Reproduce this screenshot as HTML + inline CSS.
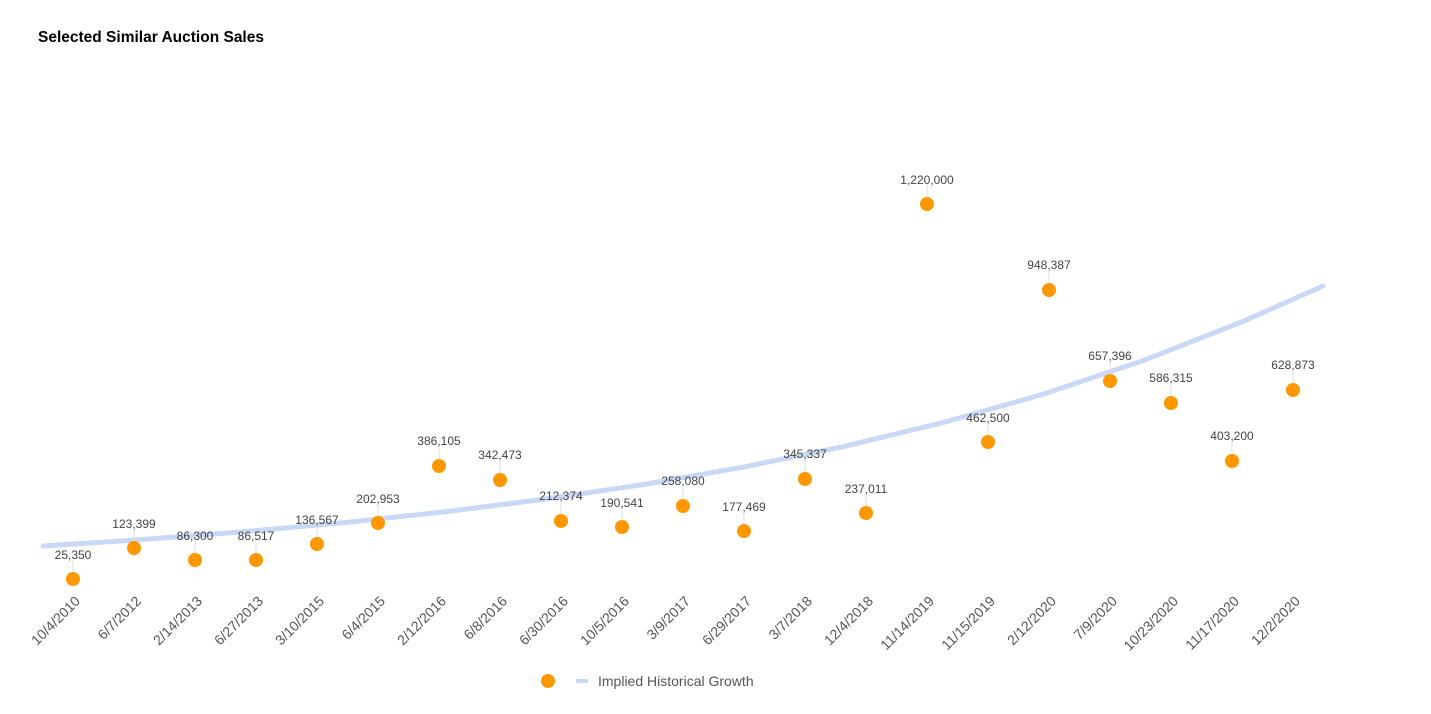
<!DOCTYPE html>
<html><head><meta charset="utf-8"><style>
body{margin:0;background:#fff;}
svg{display:block;font-family:"Liberation Sans",Arial,sans-serif;}
.v{font-size:12px;fill:#444;text-anchor:middle;}
.t{font-size:14px;fill:#555;text-anchor:end;}
.l{stroke:#ddd;stroke-width:1;}
</style></head><body>
<svg width="1431" height="714" viewBox="0 0 1431 714">
<text x="38" y="42" font-size="15.5" font-weight="bold" fill="#000">Selected Similar Auction Sales</text>
<polyline fill="none" stroke="#c9d9f5" stroke-width="5" stroke-linecap="round" points="43,546 143,539.5 243,531.7 343,522.7 443,512 543,499.4 643,484.6 743,467.2 843,446.7 943,422.6 1043,394.2 1143,360.7 1243,321.4 1323,286"/>
<g fill="#ff9800">
<line class="l" x1="73" y1="561" x2="73" y2="572"/><circle cx="73" cy="579" r="7"/><text class="v" x="73" y="559">25,350</text>
<line class="l" x1="134" y1="529" x2="134" y2="541"/><circle cx="134" cy="548" r="7"/><text class="v" x="134" y="528">123,399</text>
<line class="l" x1="195" y1="541" x2="195" y2="553"/><circle cx="195" cy="560" r="7"/><text class="v" x="195" y="540">86,300</text>
<line class="l" x1="256" y1="541" x2="256" y2="553"/><circle cx="256" cy="560" r="7"/><text class="v" x="256" y="540">86,517</text>
<line class="l" x1="317" y1="525" x2="317" y2="537"/><circle cx="317" cy="544" r="7"/><text class="v" x="317" y="524">136,567</text>
<line class="l" x1="378" y1="504" x2="378" y2="516"/><circle cx="378" cy="523" r="7"/><text class="v" x="378" y="503">202,953</text>
<line class="l" x1="439" y1="447" x2="439" y2="459"/><circle cx="439" cy="466" r="7"/><text class="v" x="439" y="445">386,105</text>
<line class="l" x1="500" y1="461" x2="500" y2="473"/><circle cx="500" cy="480" r="7"/><text class="v" x="500" y="459">342,473</text>
<line class="l" x1="561" y1="502" x2="561" y2="514"/><circle cx="561" cy="521" r="7"/><text class="v" x="561" y="500">212,374</text>
<line class="l" x1="622" y1="508" x2="622" y2="520"/><circle cx="622" cy="527" r="7"/><text class="v" x="622" y="507">190,541</text>
<line class="l" x1="683" y1="487" x2="683" y2="499"/><circle cx="683" cy="506" r="7"/><text class="v" x="683" y="485">258,080</text>
<line class="l" x1="744" y1="512" x2="744" y2="524"/><circle cx="744" cy="531" r="7"/><text class="v" x="744" y="511">177,469</text>
<line class="l" x1="805" y1="460" x2="805" y2="472"/><circle cx="805" cy="479" r="7"/><text class="v" x="805" y="458">345,337</text>
<line class="l" x1="866" y1="494" x2="866" y2="506"/><circle cx="866" cy="513" r="7"/><text class="v" x="866" y="493">237,011</text>
<line class="l" x1="927" y1="185" x2="927" y2="197"/><circle cx="927" cy="204" r="7"/><text class="v" x="927" y="184">1,220,000</text>
<line class="l" x1="988" y1="423" x2="988" y2="435"/><circle cx="988" cy="442" r="7"/><text class="v" x="988" y="422">462,500</text>
<line class="l" x1="1049" y1="271" x2="1049" y2="283"/><circle cx="1049" cy="290" r="7"/><text class="v" x="1049" y="269">948,387</text>
<line class="l" x1="1110" y1="362" x2="1110" y2="374"/><circle cx="1110" cy="381" r="7"/><text class="v" x="1110" y="360">657,396</text>
<line class="l" x1="1171" y1="384" x2="1171" y2="396"/><circle cx="1171" cy="403" r="7"/><text class="v" x="1171" y="382">586,315</text>
<line class="l" x1="1232" y1="442" x2="1232" y2="454"/><circle cx="1232" cy="461" r="7"/><text class="v" x="1232" y="440">403,200</text>
<line class="l" x1="1293" y1="371" x2="1293" y2="383"/><circle cx="1293" cy="390" r="7"/><text class="v" x="1293" y="369">628,873</text>
</g>
<g>
<text class="t" transform="translate(81,602) rotate(-45)">10/4/2010</text>
<text class="t" transform="translate(142,602) rotate(-45)">6/7/2012</text>
<text class="t" transform="translate(203,602) rotate(-45)">2/14/2013</text>
<text class="t" transform="translate(264,602) rotate(-45)">6/27/2013</text>
<text class="t" transform="translate(325,602) rotate(-45)">3/10/2015</text>
<text class="t" transform="translate(386,602) rotate(-45)">6/4/2015</text>
<text class="t" transform="translate(447,602) rotate(-45)">2/12/2016</text>
<text class="t" transform="translate(508,602) rotate(-45)">6/8/2016</text>
<text class="t" transform="translate(569,602) rotate(-45)">6/30/2016</text>
<text class="t" transform="translate(630,602) rotate(-45)">10/5/2016</text>
<text class="t" transform="translate(691,602) rotate(-45)">3/9/2017</text>
<text class="t" transform="translate(752,602) rotate(-45)">6/29/2017</text>
<text class="t" transform="translate(813,602) rotate(-45)">3/7/2018</text>
<text class="t" transform="translate(874,602) rotate(-45)">12/4/2018</text>
<text class="t" transform="translate(935,602) rotate(-45)">11/14/2019</text>
<text class="t" transform="translate(996,602) rotate(-45)">11/15/2019</text>
<text class="t" transform="translate(1057,602) rotate(-45)">2/12/2020</text>
<text class="t" transform="translate(1118,602) rotate(-45)">7/9/2020</text>
<text class="t" transform="translate(1179,602) rotate(-45)">10/23/2020</text>
<text class="t" transform="translate(1240,602) rotate(-45)">11/17/2020</text>
<text class="t" transform="translate(1301,602) rotate(-45)">12/2/2020</text>
</g>
<circle cx="548" cy="681" r="7" fill="#ff9800"/>
<line x1="576" y1="681" x2="588" y2="681" stroke="#c9d9f5" stroke-width="4"/>
<text x="598" y="686" font-size="14" fill="#555">Implied Historical Growth</text>
</svg>
</body></html>
